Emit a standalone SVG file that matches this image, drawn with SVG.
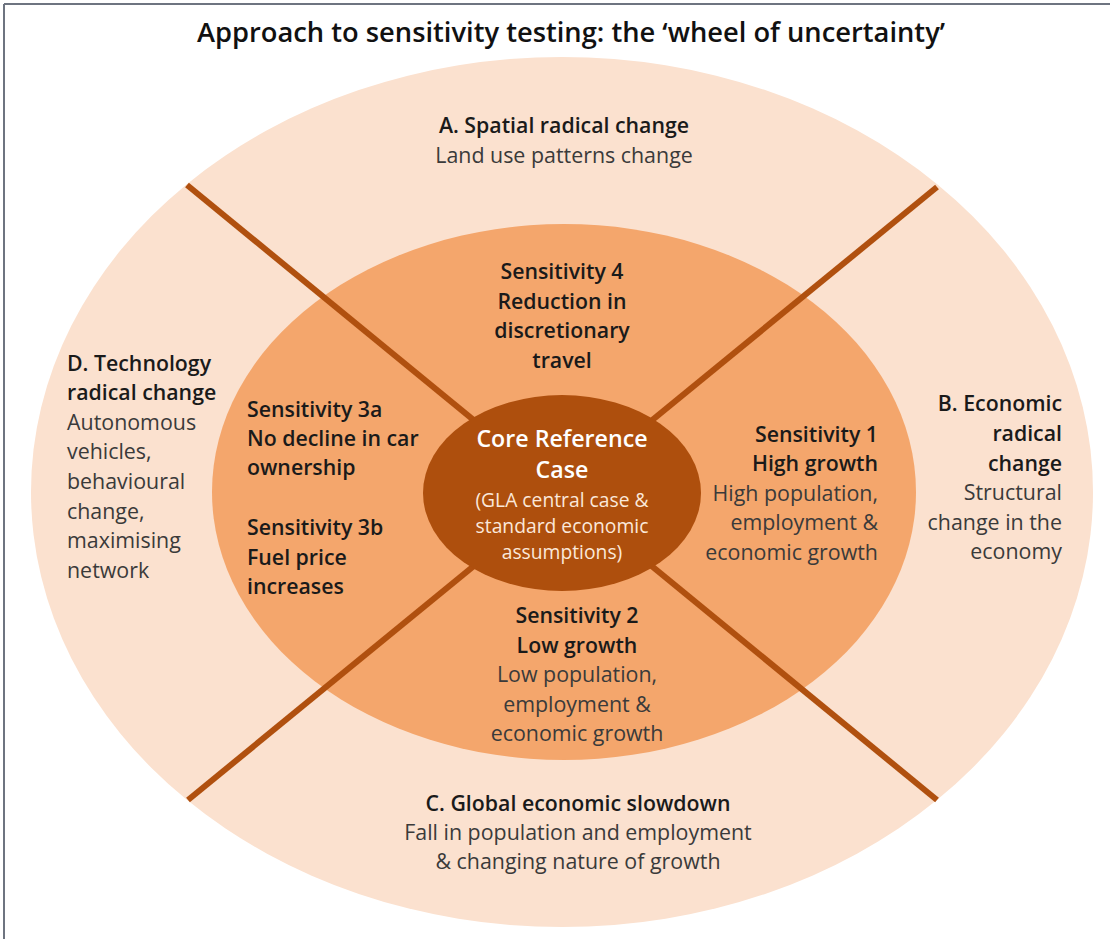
<svg xmlns="http://www.w3.org/2000/svg" width="1110" height="939" viewBox="0 0 1110 939">
<style>
text{font-family:"Open Sans","Liberation Sans",sans-serif;}
.t{font-size:27.3px;font-weight:600;fill:#111;}
.h{font-size:21.3px;font-weight:600;fill:#1a1a1a;}
.b{font-size:21.4px;font-weight:400;fill:#3a3a3a;}
.ch{font-size:23.2px;font-weight:600;fill:#fff;}
.cb{font-size:19.3px;font-weight:400;fill:#fbe8da;}
.m{text-anchor:middle;}
.e{text-anchor:end;}
.sep{stroke:#b0500f;stroke-width:6;fill:none;}
</style>
<rect x="0" y="0" width="1110" height="939" fill="#fff"/>
<g id="frame" stroke="#6e7480" stroke-width="2" fill="none">
<line x1="4" y1="4" x2="1110" y2="4"/>
<line x1="4" y1="4" x2="4" y2="939"/>
</g>
<text id="title" class="t m" x="571" y="42">Approach to sensitivity testing: the ‘wheel of uncertainty’</text>
<g id="ring-outer"><ellipse cx="562" cy="492" rx="531" ry="435" fill="#fbe1cf"/></g>
<g id="ring-middle"><ellipse cx="564" cy="492" rx="352" ry="268" fill="#f4a66c"/></g>
<g id="connectors">
<line class="sep" x1="187" y1="185" x2="937" y2="800"/>
<line class="sep" x1="937" y1="187" x2="188" y2="800"/>
</g>
<g id="core">
<ellipse cx="562" cy="493" rx="139" ry="98" fill="#ae4f0d"/>
<text class="ch m" x="562" y="447">Core Reference</text>
<text class="ch m" x="562" y="478">Case</text>
<text class="cb m" x="562" y="507">(GLA central case &amp;</text>
<text class="cb m" x="562" y="533">standard economic</text>
<text class="cb m" x="562" y="559">assumptions)</text>
</g>
<g id="segment-a">
<text class="h m" x="564" y="133">A. Spatial radical change</text>
<text class="b m" x="564" y="163">Land use patterns change</text>
</g>
<g id="segment-b">
<text class="h e" x="1062" y="411">B. Economic</text>
<text class="h e" x="1062" y="441">radical</text>
<text class="h e" x="1062" y="471">change</text>
<text class="b e" x="1062" y="500">Structural</text>
<text class="b e" x="1062" y="530">change in the</text>
<text class="b e" x="1062" y="559">economy</text>
</g>
<g id="segment-c">
<text class="h m" x="578" y="811">C. Global economic slowdown</text>
<text class="b m" x="578" y="840">Fall in population and employment</text>
<text class="b m" x="578" y="869">&amp; changing nature of growth</text>
</g>
<g id="segment-d">
<text class="h" x="67" y="371">D. Technology</text>
<text class="h" x="67" y="400">radical change</text>
<text class="b" x="67" y="430">Autonomous</text>
<text class="b" x="67" y="459">vehicles,</text>
<text class="b" x="67" y="489">behavioural</text>
<text class="b" x="67" y="519">change,</text>
<text class="b" x="67" y="548">maximising</text>
<text class="b" x="67" y="578">network</text>
</g>
<g id="sensitivity-1">
<text class="h e" x="878" y="442">Sensitivity 1</text>
<text class="h e" x="878" y="471">High growth</text>
<text class="b e" x="878" y="501">High population,</text>
<text class="b e" x="878" y="530">employment &amp;</text>
<text class="b e" x="878" y="560">economic growth</text>
</g>
<g id="sensitivity-2">
<text class="h m" x="577" y="623">Sensitivity 2</text>
<text class="h m" x="577" y="653">Low growth</text>
<text class="b m" x="577" y="682">Low population,</text>
<text class="b m" x="577" y="712">employment &amp;</text>
<text class="b m" x="577" y="741">economic growth</text>
</g>
<g id="sensitivity-3">
<text class="h" x="247" y="417">Sensitivity 3a</text>
<text class="h" x="247" y="446">No decline in car</text>
<text class="h" x="247" y="475">ownership</text>
<text class="h" x="247" y="535">Sensitivity 3b</text>
<text class="h" x="247" y="565">Fuel price</text>
<text class="h" x="247" y="594">increases</text>
</g>
<g id="sensitivity-4">
<text class="h m" x="562" y="279">Sensitivity 4</text>
<text class="h m" x="562" y="309">Reduction in</text>
<text class="h m" x="562" y="338">discretionary</text>
<text class="h m" x="562" y="368">travel</text>
</g>
</svg>
